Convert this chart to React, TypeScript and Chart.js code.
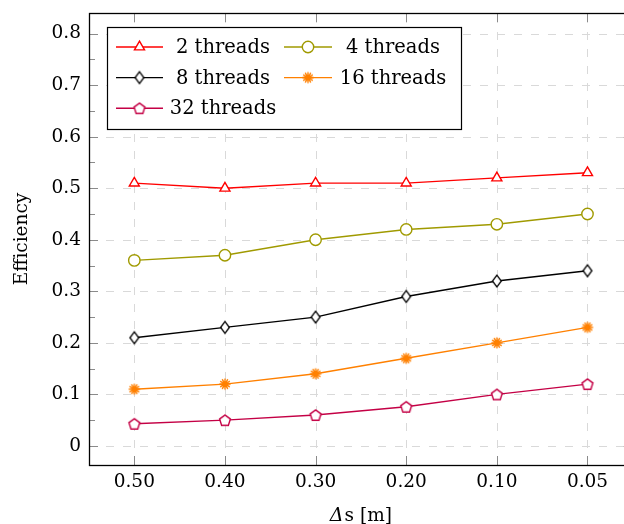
import React, { useEffect, useRef } from "react";
import { Chart, registerables } from "chart.js";
import { drawPoint } from "chart.js/helpers";

Chart.register(...registerables);

// ---- data ----
const categories = ["0.50", "0.40", "0.30", "0.20", "0.10", "0.05"];
const seriesLabels = ["2 threads", "4 threads", "8 threads", "16 threads", "32 threads"];
const threads2 = [0.51, 0.5, 0.51, 0.51, 0.52, 0.53];
const threads4 = [0.36, 0.37, 0.4, 0.42, 0.43, 0.45];
const threads8 = [0.21, 0.23, 0.25, 0.29, 0.32, 0.34];
const threads16 = [0.11, 0.12, 0.14, 0.17, 0.2, 0.23];
const threads32 = [0.043, 0.05, 0.06, 0.076, 0.1, 0.12];
const yMajorTicks = [0, 0.1, 0.2, 0.3, 0.4, 0.5, 0.6, 0.7, 0.8];
const yMinorTicks = [0.05, 0.15, 0.25, 0.35, 0.45, 0.55, 0.65, 0.75];
const yMin = -0.037;
const yMax = 0.84;
const yTitle = "Efficiency";
const xTitleItalic = "Δ";
const xTitleRest = "s [m]";

// ---- styles ----
const FONT = "'DejaVu Serif', serif";
const RED = "#ff0000";
const OLIVE = "#a09a00";
const BLACK = "#000000";
const ORANGE = "#ff8000";
const PURPLE = "#c40045";
const GRID = "#d9d9d9";
const TICK = "#8a8a8a";
const LW = 1.4;

function makeDiamond(color: string) {
  const c = document.createElement("canvas");
  c.width = 14;
  c.height = 16;
  const g = c.getContext("2d")!;
  g.strokeStyle = color;
  g.fillStyle = "#fff";
  g.lineWidth = 1.3;
  g.beginPath();
  g.moveTo(7, 2.2);
  g.lineTo(11.4, 8);
  g.lineTo(7, 13.8);
  g.lineTo(2.6, 8);
  g.closePath();
  g.fill();
  g.stroke();
  return c;
}

function makePentagon(color: string) {
  const c = document.createElement("canvas");
  c.width = 16;
  c.height = 16;
  const g = c.getContext("2d")!;
  g.strokeStyle = color;
  g.fillStyle = "#fff";
  g.lineWidth = 1.4;
  g.beginPath();
  const r = 5.7;
  for (let i = 0; i < 5; i++) {
    const a = -Math.PI / 2 + (i * 2 * Math.PI) / 5;
    const px = 8 + r * Math.cos(a);
    const py = 8.6 + r * Math.sin(a);
    if (i === 0) g.moveTo(px, py);
    else g.lineTo(px, py);
  }
  g.closePath();
  g.fill();
  g.stroke();
  return c;
}

function makeAsterisk(color: string) {
  const c = document.createElement("canvas");
  c.width = 16;
  c.height = 16;
  const g = c.getContext("2d")!;
  g.strokeStyle = color;
  g.lineWidth = 1.4;
  g.beginPath();
  const r = 5.6;
  for (let i = 0; i < 6; i++) {
    const a = Math.PI / 2 + (i * Math.PI) / 6;
    g.moveTo(8 - r * Math.cos(a), 8 - r * Math.sin(a));
    g.lineTo(8 + r * Math.cos(a), 8 + r * Math.sin(a));
  }
  g.stroke();
  return c;
}

const decorPlugin = {
  id: "decor",
  beforeDatasetsDraw(chart: any) {
    const { ctx, chartArea: a, scales } = chart;
    const x = scales.x;
    const y = scales.y;
    ctx.save();
    // dashed grid
    ctx.strokeStyle = GRID;
    ctx.lineWidth = 1;
    ctx.setLineDash([8, 9]);
    for (const v of yMajorTicks) {
      const py = Math.round(y.getPixelForValue(v)) + 0.5;
      ctx.beginPath();
      ctx.moveTo(a.left, py);
      ctx.lineTo(a.right, py);
      ctx.stroke();
    }
    categories.forEach((_, i) => {
      const px = Math.round(x.getPixelForValue(i)) + 0.5;
      ctx.beginPath();
      ctx.moveTo(px, a.bottom);
      ctx.lineTo(px, a.top);
      ctx.stroke();
    });
    ctx.setLineDash([]);
    // ticks
    ctx.strokeStyle = TICK;
    ctx.lineWidth = 1;
    for (const v of yMajorTicks) {
      const py = Math.round(y.getPixelForValue(v)) + 0.5;
      ctx.beginPath();
      ctx.moveTo(a.left, py);
      ctx.lineTo(a.left + 9, py);
      ctx.moveTo(a.right, py);
      ctx.lineTo(a.right - 9, py);
      ctx.stroke();
    }
    for (const v of yMinorTicks) {
      const py = Math.round(y.getPixelForValue(v)) + 0.5;
      ctx.beginPath();
      ctx.moveTo(a.left, py);
      ctx.lineTo(a.left + 6, py);
      ctx.moveTo(a.right, py);
      ctx.lineTo(a.right - 6, py);
      ctx.stroke();
    }
    categories.forEach((_, i) => {
      const px = Math.round(x.getPixelForValue(i)) + 0.5;
      ctx.beginPath();
      ctx.moveTo(px, a.bottom);
      ctx.lineTo(px, a.bottom - 9);
      ctx.moveTo(px, a.top);
      ctx.lineTo(px, a.top + 9);
      ctx.stroke();
    });
    ctx.restore();
  },
  afterDatasetsDraw(chart: any) {
    const { ctx, chartArea: a } = chart;
    ctx.save();
    // axis box
    ctx.strokeStyle = BLACK;
    ctx.lineWidth = 1.3;
    ctx.strokeRect(Math.round(a.left) + 0.5, Math.round(a.top) + 0.5, a.right - a.left, a.bottom - a.top);

    // legend
    const lx = a.left + 18;
    const ly = a.top + 14;
    const lw = 354;
    const lh = 102;
    ctx.fillStyle = "#fff";
    ctx.fillRect(lx, ly, lw, lh);
    ctx.strokeStyle = BLACK;
    ctx.lineWidth = 1.2;
    ctx.strokeRect(Math.round(lx) + 0.5, Math.round(ly) + 0.5, lw, lh);
    const cols = [
      { l0: 9, l1: 56, tc: 116 },
      { l0: 177, l1: 225, tc: 286 },
    ];
    const rowY0 = 20;
    const rowH = 30.6;
    ctx.font = `19.5px ${FONT}`;
    ctx.textAlign = "center";
    ctx.textBaseline = "middle";
    chart.data.datasets.forEach((ds: any, i: number) => {
      const col = cols[i % 2];
      const row = Math.floor(i / 2);
      const cy = ly + rowY0 + row * rowH;
      ctx.strokeStyle = ds.borderColor;
      ctx.lineWidth = LW;
      ctx.beginPath();
      ctx.moveTo(lx + col.l0, cy);
      ctx.lineTo(lx + col.l1, cy);
      ctx.stroke();
      ctx.fillStyle = "#fff";
      ctx.strokeStyle = ds.borderColor;
      ctx.lineWidth = LW;
      drawPoint(
        ctx,
        { pointStyle: ds.pointStyle, radius: ds.pointRadius, rotation: 0, borderWidth: LW } as any,
        lx + (col.l0 + col.l1) / 2,
        cy
      );
      ctx.fillStyle = BLACK;
      ctx.fillText(ds.label, lx + col.tc, cy + 1);
    });

    // x title
    ctx.font = `italic 19px ${FONT}`;
    const w1 = ctx.measureText(xTitleItalic).width;
    ctx.font = `18.5px ${FONT}`;
    const w2 = ctx.measureText(xTitleRest).width;
    const cx = (a.left + a.right) / 2;
    const start = cx - (w1 + w2 + 1) / 2;
    ctx.textAlign = "left";
    ctx.textBaseline = "alphabetic";
    ctx.fillStyle = BLACK;
    ctx.font = `italic 19px ${FONT}`;
    ctx.fillText(xTitleItalic, start, a.bottom + 56);
    ctx.font = `18.5px ${FONT}`;
    ctx.fillText(xTitleRest, start + w1 + 1, a.bottom + 56);
    ctx.restore();
  },
};

export default function App() {
  const ref = useRef<HTMLCanvasElement | null>(null);
  useEffect(() => {
    if (!ref.current) return;
    const pent = makePentagon(PURPLE);
    const diam = makeDiamond(BLACK);
    const star = makeAsterisk(ORANGE);
    const mk = (label: string, data: number[], color: string, pointStyle: any, radius: number) => ({
      label,
      data,
      borderColor: color,
      backgroundColor: "#fff",
      borderWidth: LW,
      pointStyle,
      pointRadius: radius,
      pointHoverRadius: radius,
      pointBorderWidth: LW,
      pointBorderColor: color,
      pointBackgroundColor: "#fff",
      tension: 0,
      clip: false as any,
    });
    const chart = new Chart(ref.current, {
      type: "line",
      data: {
        labels: categories,
        datasets: [
          mk(seriesLabels[0], threads2, RED, "triangle", 5.8),
          mk(seriesLabels[1], threads4, OLIVE, "circle", 5.7),
          mk(seriesLabels[2], threads8, BLACK, diam, 5.5),
          mk(seriesLabels[3], threads16, ORANGE, star, 5.6),
          mk(seriesLabels[4], threads32, PURPLE, pent, 5.6),
        ],
      },
      options: {
        responsive: false,
        animation: false,
        devicePixelRatio: 1,
        layout: { padding: { top: 13, right: 6, left: 0, bottom: 0 } },
        plugins: { legend: { display: false }, tooltip: { enabled: false } },
        scales: {
          x: {
            type: "category",
            offset: true,
            grid: { display: false, drawTicks: false },
            border: { display: false },
            ticks: {
              color: BLACK,
              font: { family: FONT, size: 18.5 },
              padding: 6,
              maxRotation: 0,
            },
            afterFit: (s: any) => {
              s.height = 59;
              s.paddingLeft = 0;
              s.paddingRight = 0;
            },
          },
          y: {
            type: "linear",
            min: yMin,
            max: yMax,
            grid: { display: false, drawTicks: false },
            border: { display: false },
            afterBuildTicks: (s: any) => {
              s.ticks = yMajorTicks.map((v) => ({ value: v }));
            },
            ticks: {
              color: BLACK,
              font: { family: FONT, size: 18.5 },
              padding: 8,
              callback: (v: any) => (Number(v) === 0 ? "0" : Number(v).toFixed(1)),
            },
            title: {
              display: true,
              text: yTitle,
              color: BLACK,
              font: { family: FONT, size: 18.5 },
              padding: { top: 11, bottom: 0 },
            },
            afterFit: (s: any) => {
              s.width = 89;
              s.paddingTop = 0;
              s.paddingBottom = 0;
            },
          },
        },
      },
      plugins: [decorPlugin],
    });
    return () => chart.destroy();
  }, []);
  return (
    <div
      style={{
        position: "fixed",
        left: 0,
        top: 0,
        width: 624,
        height: 524,
        overflow: "hidden",
        background: "#fff",
      }}
    >
      <canvas ref={ref} width={640} height={524} style={{ display: "block" }} />
    </div>
  );
}
